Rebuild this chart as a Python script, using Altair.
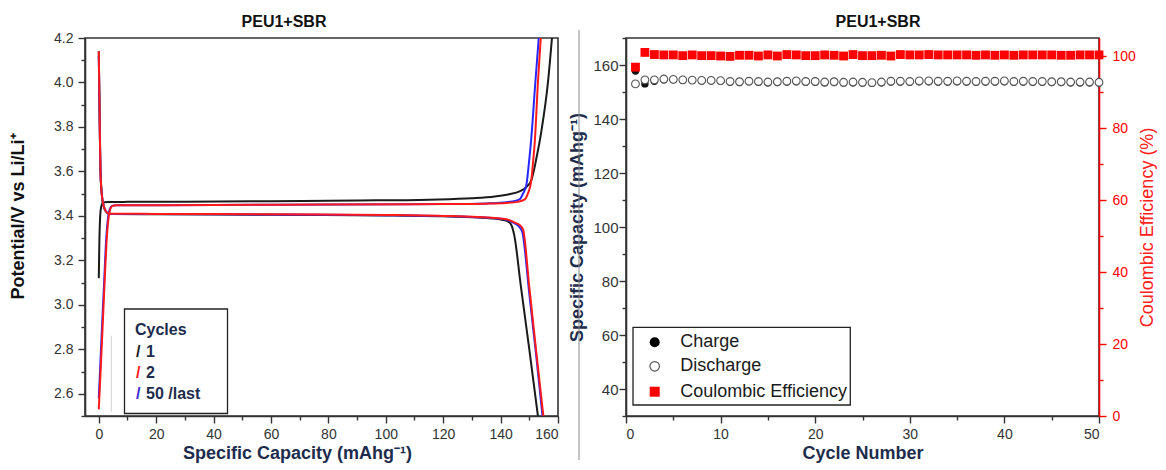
import altair as alt
import pandas as pd

FONT = "Liberation Sans"
NAVY = "#1d2c4c"
GRAY = "#333333"
RED = "#ff1a1a"
BLUE = "#2626ff"
BLACK = "#1a1a1a"

# ---------------- left panel: voltage profiles ----------------
c1_chg_x = [0, 0.2, 0.5, 0.9, 1.5, 3, 10, 30, 60, 90, 115, 130, 138, 143, 146.6, 149, 150.7, 152.5, 154.2, 156.5, 157.9]
c1_chg_y = [3.12, 3.28, 3.40, 3.445, 3.46, 3.462, 3.463, 3.464, 3.466, 3.469, 3.473, 3.479, 3.487, 3.497, 3.51, 3.53, 3.56, 3.66, 3.78, 4.00, 4.20]
c1_dis_x = [0, 0.2, 0.4, 0.6, 0.9, 1.3, 1.8, 2.5, 3.5, 5, 20, 60, 100, 120, 132, 138, 140.5, 142.5, 143.7, 144.8, 147, 150, 153]
c1_dis_y = [4.14, 3.95, 3.75, 3.60, 3.52, 3.47, 3.44, 3.42, 3.41, 3.408, 3.407, 3.405, 3.402, 3.398, 3.393, 3.388, 3.383, 3.375, 3.36, 3.31, 3.09, 2.80, 2.50]

c2_chg_x = [0, 0.7, 1.4, 2.1, 2.8, 3.4, 4.0, 4.8, 6, 10, 40, 80, 120, 135, 142, 146, 148.4, 149.5, 150.7, 151.3, 151.9, 153.0, 154.0]
c2_chg_y = [2.53, 2.72, 2.92, 3.12, 3.30, 3.39, 3.43, 3.445, 3.448, 3.448, 3.449, 3.451, 3.453, 3.455, 3.458, 3.463, 3.474, 3.50, 3.56, 3.64, 3.73, 4.00, 4.20]
c2_dis_x = [0, 0.2, 0.4, 0.6, 0.9, 1.3, 1.8, 2.5, 3.5, 5, 20, 60, 100, 120, 132, 138, 142, 144.9, 146.5, 147.8, 150, 152.5, 154.9]
c2_dis_y = [4.14, 3.95, 3.75, 3.60, 3.52, 3.47, 3.44, 3.42, 3.41, 3.41, 3.409, 3.407, 3.404, 3.400, 3.395, 3.39, 3.385, 3.37, 3.36, 3.34, 3.08, 2.78, 2.50]

c50_chg_x = [0, 0.6, 1.3, 2.0, 2.6, 3.2, 3.8, 4.6, 6, 10, 40, 80, 120, 135, 141, 144, 146.6, 147.8, 149.0, 149.8, 150.7, 152.1, 153.3]
c50_chg_y = [2.58, 2.75, 2.95, 3.14, 3.30, 3.39, 3.43, 3.445, 3.448, 3.448, 3.449, 3.451, 3.453, 3.456, 3.46, 3.465, 3.474, 3.50, 3.54, 3.63, 3.75, 4.00, 4.20]
c50_dis_x = [0, 0.2, 0.4, 0.6, 0.9, 1.3, 1.8, 2.5, 3.5, 5, 20, 60, 100, 120, 132, 138, 142, 144.6, 146.2, 147.5, 150, 152.5, 154.6]
c50_dis_y = [4.12, 3.93, 3.74, 3.60, 3.52, 3.47, 3.44, 3.42, 3.41, 3.408, 3.408, 3.406, 3.403, 3.399, 3.394, 3.389, 3.383, 3.368, 3.355, 3.33, 3.05, 2.76, 2.50]

left_x_ticks = [0, 10, 20, 30, 40, 50, 60, 70, 80, 90, 100, 110, 120, 130, 140, 150, 160]
left_y_ticks = [2.5, 2.6, 2.7, 2.8, 2.9, 3.0, 3.1, 3.2, 3.3, 3.4, 3.5, 3.6, 3.7, 3.8, 3.9, 4.0, 4.1, 4.2]

# ---------------- right panel: cycling ----------------
cycles = list(range(1, 51))
charge = [157.8, 153.0, 154.0, 154.5, 154.5, 154.3, 154.3, 154.1, 154.1, 154.0,
          153.6, 153.5, 153.8, 153.6, 153.4, 153.5, 153.7, 153.8, 153.6, 153.6,
          153.4, 153.5, 153.3, 153.4, 153.3, 153.2, 153.4, 153.7, 153.7, 153.6,
          153.8, 153.8, 153.7, 153.7, 153.8, 153.7, 153.6, 153.7, 153.7, 153.8,
          153.6, 153.7, 153.6, 153.6, 153.5, 153.5, 153.4, 153.4, 153.4, 153.3]
discharge = [153.0, 154.5, 154.5, 154.8, 154.7, 154.5, 154.4, 154.3, 154.3, 154.2,
             153.9, 153.8, 154.0, 153.9, 153.7, 153.8, 154.0, 154.1, 153.9, 153.9,
             153.7, 153.8, 153.6, 153.7, 153.6, 153.5, 153.7, 154.0, 154.0, 153.9,
             154.1, 154.1, 154.0, 154.0, 154.1, 154.0, 153.9, 154.0, 154.0, 154.1,
             153.9, 154.0, 153.9, 153.9, 153.8, 153.8, 153.7, 153.7, 153.7, 153.6]
coulombic = [96.9, 101.0, 100.4, 100.3, 100.3, 100.1, 100.3, 100.1, 100.1, 100.0,
             99.9, 100.2, 100.2, 100.0, 100.3, 100.0, 100.4, 100.3, 100.1, 100.1,
             100.3, 100.2, 100.0, 100.4, 100.1, 100.1, 100.2, 100.0, 100.4, 100.3,
             100.3, 100.4, 100.3, 100.3, 100.3, 100.3, 100.2, 100.3, 100.2, 100.3,
             100.2, 100.3, 100.3, 100.3, 100.3, 100.2, 100.2, 100.3, 100.3, 100.3]

right_x_ticks = [0, 5, 10, 15, 20, 25, 30, 35, 40, 45, 50]
right_y_ticks = [30, 40, 50, 60, 70, 80, 90, 100, 110, 120, 130, 140, 150, 160, 170]
ce_ticks = [0, 10, 20, 30, 40, 50, 60, 70, 80, 90, 100]

panel_title = "PEU1+SBR"

one = pd.DataFrame({"k": [0]})
W, H = 473, 378


def curve(x, y, seg):
    return pd.DataFrame({"cap": x, "volt": y, "idx": list(range(len(x))), "seg": seg})


def txt(text, x, y, color, size, weight="bold", align="left"):
    return alt.Chart(one).mark_text(
        text=text, align=align, baseline="middle", font=FONT,
        fontSize=size, fontWeight=weight, color=color
    ).encode(x=alt.value(x), y=alt.value(y))


xL = alt.X("cap:Q", scale=alt.Scale(domain=[-4.8, 160], nice=False, zero=False),
           axis=alt.Axis(values=left_x_ticks, title="Specific Capacity (mAhg⁻¹)",
                         labelExpr="datum.value % 20 == 0 ? datum.label : ''",
                         tickSize={"condition": {"test": "datum.value % 20 == 0", "value": 7}, "value": 4},
                         format="d", labelPadding=4, titlePadding=3, titleX=212))
yL = alt.Y("volt:Q", scale=alt.Scale(domain=[2.5, 4.2], nice=False, zero=False),
           axis=alt.Axis(values=left_y_ticks, title="Potential/V vs Li/Li⁺", titleColor="#111111",
                         labelExpr="abs(datum.value*5 - round(datum.value*5)) < 0.001 ? format(datum.value, '.1f') : ''",
                         tickSize={"condition": {"test": "abs(datum.value*5 - round(datum.value*5)) < 0.001", "value": 7}, "value": 4},
                         labelPadding=5, titlePadding=26, titleY=178))


def line_layer(df, color):
    return alt.Chart(df).mark_line(color=color, strokeWidth=2, interpolate="monotone", clip=True).encode(
        x=xL, y=yL, detail="seg:N", order="idx:Q")


black_df = pd.concat([curve(c1_chg_x, c1_chg_y, "c1c"), curve(c1_dis_x, c1_dis_y, "c1d")])
blue_df = pd.concat([curve(c50_chg_x, c50_chg_y, "c50c"), curve(c50_dis_x, c50_dis_y, "c50d")])
red_df = pd.concat([curve(c2_chg_x, c2_chg_y, "c2c"), curve(c2_dis_x, c2_dis_y, "c2d")])

left_box = alt.Chart(one).mark_rect(fill="white", stroke="#222222", strokeWidth=1.3).encode(
    x=alt.value(39.5), x2=alt.value(142.5), y=alt.value(271), y2=alt.value(375.5))
faint = alt.Chart(one).mark_rule(color="#d0d0d0", strokeWidth=1).encode(
    x=alt.value(26.3), y=alt.value(297.7), y2=alt.value(373.7))

left = alt.layer(
    line_layer(black_df, BLACK),
    line_layer(blue_df, BLUE),
    line_layer(red_df, RED),
    faint,
    left_box,
    txt("Cycles", 50, 292, NAVY, 16),
    txt("/", 51, 314, BLACK, 16),
    txt("1", 61, 314, NAVY, 16),
    txt("/", 51, 335, RED, 16),
    txt("2", 61, 335, NAVY, 16),
    txt("/", 51, 356, "#3a2ad0", 16),
    txt("50 /last", 61, 356, NAVY, 16),
    txt(panel_title, 199, -16, "#111111", 16, align="center"),
).properties(width=W, height=H)

# right panel
rdf = pd.DataFrame({"cycle": cycles, "charge": charge, "discharge": discharge, "ce": coulombic})

xR = alt.X("cycle:Q", scale=alt.Scale(domain=[0, 50], nice=False, zero=False),
           axis=alt.Axis(values=right_x_ticks, title="Cycle Number",
                         labelExpr="datum.value % 10 == 0 ? datum.label : ''",
                         tickSize={"condition": {"test": "datum.value % 10 == 0", "value": 7}, "value": 4},
                         format="d", labelPadding=4, titlePadding=3))
cap_axis = alt.Axis(values=right_y_ticks, title="Specific Capacity (mAhg⁻¹)",
                    labelExpr="datum.value % 20 == 0 && datum.value >= 40 && datum.value <= 160 ? datum.label : ''",
                    tickSize={"condition": {"test": "datum.value % 20 == 0", "value": 7}, "value": 4},
                    format="d", labelPadding=1, titlePadding=6, labelFontSize=15)
cap_scale = alt.Scale(domain=[30, 170], nice=False, zero=False)

charge_l = alt.Chart(rdf).mark_point(shape="circle", filled=True, color="#111111", size=55, opacity=1).encode(
    x=xR, y=alt.Y("charge:Q", scale=cap_scale, axis=cap_axis))
dis_l = alt.Chart(rdf).mark_point(shape="circle", filled=True, fill="white", stroke="#555555",
                                  strokeWidth=1.1, size=60, opacity=1, fillOpacity=1).encode(
    x=xR, y=alt.Y("discharge:Q", scale=cap_scale, axis=cap_axis))

right_box = alt.Chart(one).mark_rect(fill="white", stroke="#222222", strokeWidth=1.3).encode(
    x=alt.value(7), x2=alt.value(224.3), y=alt.value(289.3), y2=alt.value(367))
leg_fill = alt.Chart(one).mark_point(shape="circle", filled=True, color="#000000", size=100, opacity=1).encode(
    x=alt.value(28.7), y=alt.value(304.3))
leg_open = alt.Chart(one).mark_point(shape="circle", filled=False, color="#555555", size=90,
                                     strokeWidth=1.2, opacity=1).encode(x=alt.value(28.7), y=alt.value(328.3))
leg_sq = alt.Chart(one).mark_square(color="#ff0000", size=100, opacity=1).encode(
    x=alt.value(28.7), y=alt.value(353.7))
divider = alt.Chart(one).mark_rule(color="#8a8a8a", strokeWidth=1).encode(
    x=alt.value(-47), y=alt.value(-8), y2=alt.value(422))

cap_layer = alt.layer(
    charge_l, dis_l, right_box, leg_fill, leg_open, leg_sq,
    txt("Charge", 54.3, 304.3, "#1a1a1a", 18, weight="normal"),
    txt("Discharge", 54.3, 328.3, "#1a1a1a", 18, weight="normal"),
    txt("Coulombic Efficiency", 54.3, 353.7, "#1a1a1a", 18, weight="normal"),
    divider,
    txt(panel_title, 252, -16, "#111111", 16, align="center"),
)

ce_l = alt.Chart(rdf).mark_square(color="#ff0000", size=78, opacity=1).encode(
    x=xR,
    y=alt.Y("ce:Q", scale=alt.Scale(domain=[0, 105], nice=False, zero=False),
            axis=alt.Axis(orient="right", values=ce_ticks, title="Coulombic Efficiency (%)",
                          labelExpr="datum.value % 20 == 0 ? datum.label : ''",
                          tickSize={"condition": {"test": "datum.value % 20 == 0", "value": 7}, "value": 4},
                          format="d", labelPadding=6, titlePadding=3, titleAngle=-90, titleBaseline="top",
                          domainColor="#ff0000", tickColor="#ff0000", labelColor="#ff0000",
                          titleColor="#ff2020", titleFontWeight="normal", titleFontSize=18)))

right = alt.layer(cap_layer, ce_l).resolve_scale(y="independent").properties(width=W, height=H)

chart = alt.hconcat(left, right, spacing=68, bounds="flush").properties(
    padding={"left": 0, "top": 5, "right": 0, "bottom": 0},
    background="white"
).configure_axis(
    labelFont=FONT, titleFont=FONT, labelFontSize=14, labelColor=GRAY,
    domainColor=GRAY, domainWidth=1.6, tickColor=GRAY, tickWidth=1.4, grid=False,
    titleFontWeight="bold", titleFontSize=18, titleColor=NAVY
).configure_view(stroke=GRAY, strokeWidth=1.6)

chart.save("out.html", embed_options={"renderer": "svg", "actions": False})
